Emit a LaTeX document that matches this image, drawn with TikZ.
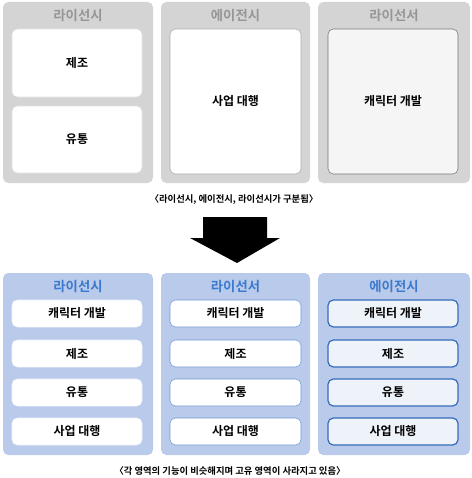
\documentclass[tikz,border=0pt]{standalone}
\usepackage{fontspec}
\setmainfont{Noto Sans CJK KR}
\newfontfamily\krbold{Noto Sans CJK KR Bold}
\usetikzlibrary{arrows.meta}
\definecolor{panelgray}{RGB}{212,212,212}
\definecolor{titlegray}{RGB}{150,150,150}
\definecolor{linegray}{RGB}{170,170,170}
\definecolor{panelblue}{RGB}{186,202,234}
\definecolor{titleblue}{RGB}{58,122,206}
\definecolor{edgeblue}{RGB}{112,152,212}
\definecolor{darkblue}{RGB}{52,108,188}
\definecolor{paleblue}{RGB}{238,242,249}
\tikzset{
	panel/.style={rounded corners=4pt,inner sep=0pt},
	titletext/.style={font=\krbold\fontsize{10}{12}\selectfont,inner sep=0pt},
	boxtext/.style={font=\krbold\fontsize{9}{11}\selectfont,inner sep=0pt},
	note/.style={font=\krbold\fontsize{7}{8}\selectfont,inner sep=0pt},
}
\begin{document}
\begin{tikzpicture}[x=0.75pt,y=-0.75pt]
	\useasboundingbox (0,0) rectangle (471,478);
	% top row
	\fill[panelgray,panel] (3,2) rectangle (153,183);
	\fill[panelgray,panel] (161,2) rectangle (310,183);
	\fill[panelgray,panel] (318,2) rectangle (470,183);
	\node[titletext,text=titlegray] (tlicensor) at (78,16) {라이선시};
	\node[titletext,text=titlegray] (tagent) at (235.5,16) {에이전시};
	\node[titletext,text=titlegray] (towner) at (394,16) {라이선서};
	\draw[white!88!black,fill=white,rounded corners=4pt] (12,29) rectangle (142,97);
	\draw[white!88!black,fill=white,rounded corners=4pt] (12,106) rectangle (142,173);
	\draw[linegray,fill=white,rounded corners=4pt] (170,29) rectangle (301,174);
	\draw[black!55,fill=black!4,rounded corners=4pt] (328,29) rectangle (458,174);
	\node[boxtext] (make) at (77,63) {제조};
	\node[boxtext] (dist) at (77,139.5) {유통};
	\node[boxtext] (agency) at (235.5,101.5) {사업 대행};
	\node[boxtext] (char) at (393,101.5) {캐릭터 개발};
	\node[note] (notetop) at (234,200) {〈라이선시, 에이전시, 라이선시가 구분됨〉};
	% arrow
	\fill[black] (203,217) -- (267,217) -- (267,238) -- (280,238) -- (237,263)
		-- (190,238) -- (203,238) -- cycle;
	% bottom row
	\fill[panelblue,panel] (3,273) rectangle (153,455);
	\fill[panelblue,panel] (161,273) rectangle (310,455);
	\fill[panelblue,panel] (318,273) rectangle (470,455);
	\node[titletext,text=titleblue] (blicensee) at (78,287) {라이선시};
	\node[titletext,text=titleblue] (blicensor) at (235.5,287) {라이선서};
	\node[titletext,text=titleblue] (bagent) at (394,287) {에이전시};
	\foreach \y/\txt/\nm in {300/캐릭터 개발/a,340/제조/b,379/유통/c,418/사업 대행/d}{
		\draw[white!80!panelblue,fill=white,rounded corners=4pt] (12,\y) rectangle (142,\y+27);
		\node[boxtext] (l\nm) at (77,\y+13.5) {\txt};
		\draw[edgeblue,fill=white,rounded corners=4pt] (170,\y) rectangle (301,\y+27);
		\node[boxtext] (s\nm) at (235.5,\y+13.5) {\txt};
		\draw[darkblue,line width=0.9pt,fill=paleblue,rounded corners=4pt] (328,\y) rectangle (458,\y+27);
		\node[boxtext] (e\nm) at (393,\y+13.5) {\txt};
	}
	\node[note] (notebottom) at (230,471) {〈각 영역의 기능이 비슷해지며 고유 영역이 사라지고 있음〉};
\end{tikzpicture}
\end{document}
